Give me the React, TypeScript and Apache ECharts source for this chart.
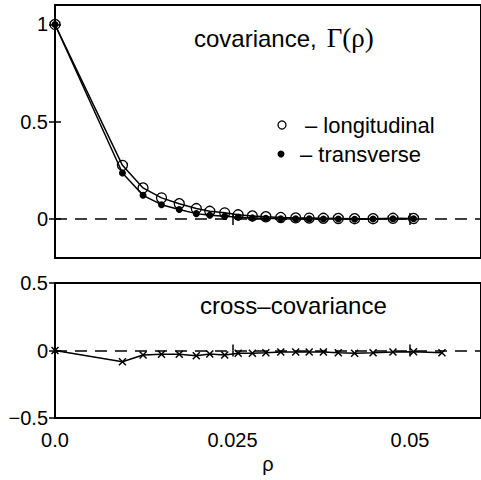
import React, { useEffect, useRef } from "react";
import * as echarts from "echarts";

const rho = [0, 0.0095, 0.0124, 0.015, 0.0175, 0.0199, 0.0218, 0.0239, 0.0258, 0.0278, 0.0297, 0.0318, 0.0339, 0.0358, 0.0378, 0.0399, 0.0422, 0.0448, 0.0476, 0.0505];
const longitudinal = [1, 0.276, 0.16, 0.109, 0.079, 0.054, 0.04, 0.032, 0.022, 0.016, 0.012, 0.008, 0.006, 0.005, 0.004, 0.003, 0.002, 0.002, 0.004, 0.003];
const transverse = [1, 0.237, 0.122, 0.074, 0.049, 0.028, 0.02, 0.014, 0.01, 0.006, 0.004, 0.002, 0.001, 0.001, 0.0, 0.0, -0.001, 0.0, 0.002, 0.002];
const rhoCross = [0, 0.0095, 0.0124, 0.015, 0.0175, 0.0199, 0.0218, 0.0239, 0.0258, 0.0278, 0.0297, 0.0318, 0.0339, 0.0358, 0.0378, 0.0399, 0.0422, 0.0448, 0.0476, 0.0505, 0.0545];
const crossCov = [0, -0.083, -0.033, -0.028, -0.028, -0.039, -0.026, -0.033, -0.02, -0.02, -0.016, -0.011, -0.011, -0.011, -0.011, -0.016, -0.02, -0.016, -0.011, -0.009, -0.016];
const xTicks = [0, 0.025, 0.05];
const xTickLabels = ["0.0", "0.025", "0.05"];
const yTicksTop = [0, 0.5, 1];
const yTicksBottom = [-0.5, 0, 0.5];

const SANS = "Liberation Sans, Arial, Helvetica, sans-serif";
const SERIF = "Liberation Serif, Times New Roman, serif";

export default function App() {
  const ref = useRef<HTMLDivElement>(null);
  useEffect(() => {
    if (!ref.current) return;
    const chart = echarts.init(ref.current, null, { renderer: "svg" });
    const tick = { show: true, inside: true, length: 6, lineStyle: { color: "#000", width: 1.5 } };
    const xBase = (gridIndex: number, position: "top" | "bottom", labels: boolean) => ({
      type: "value",
      gridIndex,
      position,
      min: 0,
      max: 0.06,
      interval: 0.025,
      axisLine: { show: false },
      splitLine: { show: false },
      axisTick: { ...tick, customValues: xTicks },
      axisLabel: {
        show: labels,
        customValues: xTicks,
        margin: 12,
        fontSize: 20,
        fontFamily: SANS,
        color: "#000",
        formatter: (v: number) => {
          const i = xTicks.findIndex((t) => Math.abs(t - v) < 1e-9);
          return i >= 0 ? xTickLabels[i] : "";
        },
      },
    });
    const yBase = (gridIndex: number, position: "left" | "right", labels: boolean, min: number, max: number, ticks: number[]) => ({
      type: "value",
      gridIndex,
      position,
      min,
      max,
      axisLine: { show: false },
      splitLine: { show: false },
      axisTick: { ...tick, customValues: ticks },
      axisLabel: {
        show: labels,
        customValues: ticks,
        margin: 7,
        fontSize: 20,
        fontFamily: SANS,
        color: "#000",
        formatter: (v: number) => (v < 0 ? "\u2212" + Math.abs(v) : String(v)),
      },
    });
    const zeroLine = {
      silent: true,
      symbol: ["none", "none"],
      label: { show: false },
      lineStyle: { color: "#000", width: 1.5, type: [12, 8] },
      data: [{ yAxis: 0 }],
    };
    const xAxisBottom: any = xBase(1, "bottom", true);
    xAxisBottom.name = "\u03c1";
    xAxisBottom.nameLocation = "middle";
    xAxisBottom.nameGap = 36;
    xAxisBottom.nameTextStyle = { fontSize: 20, fontFamily: SANS, color: "#000" };

    chart.setOption({
      animation: false,
      backgroundColor: "#fff",
      grid: [
        { left: 55, top: 5, width: 431, height: 253, show: true, borderColor: "#000", borderWidth: 2, backgroundColor: "transparent" },
        { left: 55, top: 283, width: 431, height: 135, show: true, borderColor: "#000", borderWidth: 2, backgroundColor: "transparent" },
      ],
      xAxis: [xBase(0, "bottom", false), xBase(0, "top", false), xAxisBottom, xBase(1, "top", false)],
      yAxis: [
        yBase(0, "left", true, -0.2, 1.1, yTicksTop),
        yBase(0, "right", false, -0.2, 1.1, yTicksTop),
        yBase(1, "left", true, -0.5, 0.5, yTicksBottom),
        yBase(1, "right", false, -0.5, 0.5, yTicksBottom),
      ],
      series: [
        {
          type: "line",
          xAxisIndex: 0,
          yAxisIndex: 0,
          data: rho.map((x, i) => [x, longitudinal[i]]),
          symbol: "circle",
          symbolSize: 10,
          showAllSymbol: true,
          lineStyle: { color: "#000", width: 1.5 },
          itemStyle: { color: "rgba(0,0,0,0)", borderColor: "#000", borderWidth: 1.3 },
          markLine: zeroLine,
          z: 3,
        },
        {
          type: "line",
          xAxisIndex: 0,
          yAxisIndex: 0,
          data: rho.map((x, i) => [x, transverse[i]]),
          symbol: "circle",
          symbolSize: 7,
          showAllSymbol: true,
          lineStyle: { color: "#000", width: 1.5 },
          itemStyle: { color: "#000" },
          z: 4,
        },
        {
          type: "line",
          xAxisIndex: 2,
          yAxisIndex: 2,
          data: rhoCross.map((x, i) => [x, crossCov[i]]),
          symbol: "path://M0,0L10,10M0,10L10,0",
          symbolSize: 7,
          showAllSymbol: true,
          lineStyle: { color: "#000", width: 1.5 },
          itemStyle: { color: "rgba(0,0,0,0)", borderColor: "#000", borderWidth: 1.5 },
          markLine: zeroLine,
          z: 3,
        },
      ],
      graphic: [
        {
          type: "text",
          x: 194,
          y: 38,
          style: {
            text: "{a|covariance,}   {b|\u0393(\u03c1)}",
            verticalAlign: "middle",
            rich: {
              a: { fontFamily: SANS, fontSize: 24, fill: "#000" },
              b: { fontFamily: SERIF, fontSize: 27, fill: "#000" },
            },
          },
        },
        { type: "circle", shape: { cx: 282, cy: 125, r: 4 }, style: { fill: "none", stroke: "#000", lineWidth: 1.3 } },
        { type: "text", x: 305, y: 125, style: { text: "\u2013 longitudinal", fontFamily: SANS, fontSize: 22, fill: "#000", verticalAlign: "middle" } },
        { type: "circle", shape: { cx: 281, cy: 154, r: 3.5 }, style: { fill: "#000" } },
        { type: "text", x: 300, y: 154, style: { text: "\u2013 transverse", fontFamily: SANS, fontSize: 22, fill: "#000", verticalAlign: "middle" } },
        { type: "text", x: 200, y: 305, style: { text: "cross\u2013covariance", fontFamily: SANS, fontSize: 24, fill: "#000", verticalAlign: "middle" } },
      ],
    });
    return () => chart.dispose();
  }, []);
  return <div ref={ref} style={{ position: "fixed", left: 0, top: 0, width: 481, height: 480, background: "#fff" }} />;
}
